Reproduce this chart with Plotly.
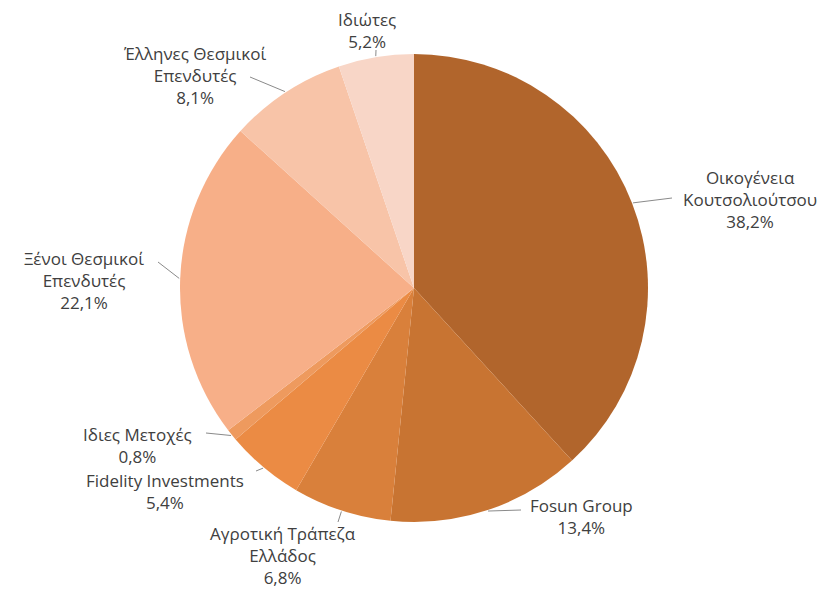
import math
import plotly.graph_objects as go

labels = ["Οικογένεια Κουτσολιούτσου", "Fosun Group", "Αγροτική Τράπεζα Ελλάδος",
          "Fidelity Investments", "Ιδιες Μετοχές", "Ξένοι Θεσμικοί Επενδυτές",
          "Έλληνες Θεσμικοί Επενδυτές", "Ιδιώτες"]
values = [38.2, 13.4, 6.8, 5.4, 0.8, 22.1, 8.1, 5.2]
label_text = ["Οικογένεια<br>Κουτσολιούτσου", "Fosun Group", "Αγροτική Τράπεζα<br>Ελλάδος",
              "Fidelity Investments", "Ιδιες Μετοχές", "Ξένοι Θεσμικοί<br>Επενδυτές",
              "Έλληνες Θεσμικοί<br>Επενδυτές", "Ιδιώτες"]
colors = ["#B1652C", "#C87432", "#D9803B", "#EB8B44", "#EE9A5E", "#F7AF88", "#F8C4A8", "#F8D6C7"]

W, H = 831, 590
cx, cy, r = 414, 288, 234

# label centres (pixels, top-left origin) and label-side end of each leader line
label_pos = [(750, 199), (581, 516), (283, 555), (165, 491), (137, 445), (84, 280), (195, 75), (367, 31)]
leader_end = [(672, 198), (521, 510), (338, 522), (256, 471), (206, 433), (158, 262), (250, 77), (376, 50)]


def px(x):
    return x / W


def py(y):
    return 1 - y / H


fig = go.Figure(go.Pie(
    labels=labels, values=values, sort=False, direction="clockwise", rotation=0,
    marker=dict(colors=colors, line=dict(width=0)),
    textinfo="none", hoverinfo="label+percent", showlegend=False,
    domain=dict(x=[px(cx - r), px(cx + r)], y=[py(cy + r), py(cy - r)]),
))

total = sum(values)
annotations = []
shapes = []
cum = 0.0
for t, v, (lx, ly), (ex, ey) in zip(label_text, values, label_pos, leader_end):
    mid = (cum + v / 2) / total * 2 * math.pi
    cum += v
    sx = cx + (r + 1) * math.sin(mid)
    sy = cy - (r + 1) * math.cos(mid)
    shapes.append(dict(type="line", x0=px(sx), y0=py(sy), x1=px(ex), y1=py(ey),
                       xref="paper", yref="paper", line=dict(color="#8a8a8a", width=1)))
    txt = t + "<br>" + f"{v:.1f}".replace(".", ",") + "%"
    annotations.append(dict(
        x=px(lx), y=py(ly), xref="paper", yref="paper", text=txt, showarrow=False,
        xanchor="center", yanchor="middle", align="center",
        font=dict(family="Open Sans, Lato, sans-serif", size=17, color="#404040"),
    ))

fig.update_layout(
    width=W, height=H, margin=dict(l=0, r=0, t=0, b=0),
    paper_bgcolor="white", plot_bgcolor="white",
    annotations=annotations, shapes=shapes,
)
fig.write_html("out.html")
